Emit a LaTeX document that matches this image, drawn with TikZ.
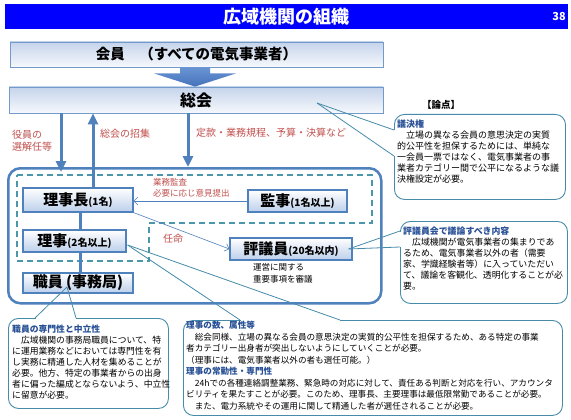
\documentclass[tikz,border=0pt]{standalone}
\usepackage{fontspec}
\setmainfont{Noto Sans CJK JP}
\usetikzlibrary{arrows.meta,calc}
\definecolor{titleblue}{RGB}{0,0,255}
\definecolor{steel}{RGB}{79,129,189}
\definecolor{dashteal}{RGB}{75,150,170}
\definecolor{calloutc}{RGB}{70,140,170}
\definecolor{labred}{RGB}{192,80,77}
\definecolor{headblue}{RGB}{40,80,150}
\definecolor{topbox}{RGB}{197,212,235}
\definecolor{botbox}{RGB}{246,248,252}
\definecolor{orgbot}{RGB}{188,207,235}
\definecolor{arrtop}{RGB}{105,148,212}
\definecolor{arrbot}{RGB}{70,114,186}
\newcommand{\fsz}[2]{\fontsize{#1}{#2}\selectfont}
\begin{document}
\begin{tikzpicture}[x=1pt,y=-1pt,
  widebox/.style={draw=steel!80, line width=0.8pt, top color=topbox, bottom color=botbox, minimum width=#1, inner sep=0pt},
  orgbox/.style={draw=steel, line width=1.2pt, top color=white, bottom color=orgbot, inner sep=0pt},
  thkline/.style={draw=steel, line width=3pt},
  thkarrow/.style={thkline, -{Triangle[width=10pt,length=11pt]}},
  thnarrow/.style={draw=steel, line width=0.6pt, -{Straight Barb[length=4pt,width=8pt]}},
  redlab/.style={text=labred, inner sep=0pt, align=left},
  callout/.style={draw=calloutc, line width=0.9pt, fill=white, rounded corners=10pt, inner sep=0pt, anchor=north west},
  tail/.style={draw=calloutc, line width=0.8pt},
  gap/.style={draw=white, line width=1.8pt},
  body/.style={inner sep=0pt, align=left, anchor=north west},
]
\useasboundingbox (0,0) rectangle (571,420);
\fill[white] (0,0) rectangle (571,420);

% title bar
\node[fill=titleblue, minimum width=563pt, minimum height=25pt, inner sep=0pt, anchor=north west,
      text=white, font=\fsz{18}{18}\bfseries] (title) at (5,4) {広域機関の組織};
\node[text=white, font=\fsz{11}{11}\bfseries, anchor=east, inner sep=0pt] (pnum) at (566,16.5) {38};

% members and general assembly
\node[widebox=373pt, minimum height=25pt] (kaiin) at (196.5,54.5) {\fsz{14.5}{15}\bfseries 会員　（すべての電気事業者）};
\node[widebox=374pt, minimum height=26pt] (soukai) at (196,100) {\fsz{16}{16}\bfseries 総会};

% big block arrow
\coordinate (ab) at ($(kaiin.south)+(-1.5,0)$);
\shade[top color=arrtop, bottom color=arrbot]
  ($(ab)+(-15,0)$) -- ($(ab)+(15,0)$) -- ($(ab)+(15,6)$) -- ($(ab)+(41,6)$)
  -- (soukai.north -| ab) -- ($(ab)+(-41,6)$) -- ($(ab)+(-15,6)$) -- cycle;

% outer organisation frame
\node[draw=steel, line width=2.5pt, rounded corners=12pt, minimum width=373pt, minimum height=135pt,
      inner sep=0pt, anchor=north west] (outer) at (7,167) {};
\draw[dashteal, line width=1.2pt, dash pattern=on 6pt off 4pt]
  (17,175) -- (372,175) -- (372,223) -- (149,223) -- (149,261) -- (17,261) -- cycle;

% organisation boxes
\node[orgbox, minimum width=110pt, minimum height=24pt] (rijicho) at (78,200)
  {{\fsz{15}{15}\bfseries 理事長}{\fsz{10}{10}\bfseries (1名)}};
\node[orgbox, minimum width=99pt, minimum height=22pt] (kanji) at (297.5,201)
  {{\fsz{15}{15}\bfseries 監事}{\fsz{10}{10}\bfseries (1名以上)}};
\node[orgbox, minimum width=103pt, minimum height=22pt] (riji) at (74.5,241)
  {{\fsz{15}{15}\bfseries 理事}{\fsz{10}{10}\bfseries (2名以上)}};
\node[orgbox, minimum width=110pt, minimum height=20pt] (shokuin) at (78,283)
  {\fsz{15}{15}\bfseries 職員 (事務局)};
\node[orgbox, minimum width=122pt, minimum height=22pt] (hyogiin) at (291,249)
  {{\fsz{15}{15}\bfseries 評議員}{\fsz{10}{10}\bfseries (20名以内)}};

% thick connectors
\coordinate (x61) at (61,0);
\coordinate (x93) at (93,0);
\coordinate (x188) at (188,0);
\coordinate (x80) at (80,0);
\draw[thkarrow] (soukai.south -| x61) -- ($(outer.north -| x61)+(0,5)$);
\draw[thkarrow] (rijicho.north -| x93) -- (soukai.south -| x93);
\draw[thkarrow] (soukai.south -| x188) -- (outer.north -| x188);
\draw[thkline] (rijicho.south -| x80) -- (riji.north -| x80);
\draw[thkline] (riji.south -| x80) -- (shokuin.north -| x80);

% thin connectors
\draw[thnarrow] (kanji.west) -- (kanji.west -| rijicho.east);
\draw[thnarrow] (rijicho.south east) -- (hyogiin.west);

% labels
\node[redlab, anchor=north west, font=\fsz{10}{12}] (l1) at (12,130) {役員の\\選解任等};
\node[redlab, anchor=west, font=\fsz{10}{12}] (l2) at (100,134) {総会の招集};
\node[redlab, anchor=west, font=\fsz{10}{12}] (l3) at (196,133) {定款・業務規程、予算・決算など};
\node[redlab, anchor=north west, font=\fsz{8.5}{11}] (l4) at (153,178) {業務監査\\必要に応じ意見提出};
\node[redlab, anchor=west, font=\fsz{10}{12}] (l5) at (163,239) {任命};
\node[body, font=\fsz{8.5}{11.5}] (l6) at (253,263.5) {運営に関する\\重要事項を審議};

% callouts
\node[font=\fsz{9.5}{10}\bfseries, inner sep=0pt] (ronten) at (441,105) {【論点】};

\node[callout, minimum width=171pt, minimum height=85pt] (c1) at (394,114) {};
\draw[gap] ($(c1.north west)+(0,16.5)$) -- ($(c1.north west)+(0,41.5)$);
\draw[tail] ($(soukai.center)+(121,3)$) -- ($(c1.north west)+(0,16)$);
\draw[tail] ($(soukai.center)+(121,3)$) -- ($(c1.north west)+(0,42)$);
\node[body, font=\fsz{9}{11}] (c1t) at ($(c1.north west)+(3,6)$) {%
{\color{headblue}\bfseries 議決権}\\
　立場の異なる会員の意思決定の実質\\
的公平性を担保するためには、単純な\\
一会員一票ではなく、電気事業者の事\\
業者カテゴリー間で公平になるような議\\
決権設定が必要。};

\node[callout, minimum width=167pt, minimum height=82pt] (c2) at (400,221) {};
\draw[gap] ($(c2.north west)+(0,10.5)$) -- ($(c2.north west)+(0,25.5)$);
\draw[tail] ($(hyogiin.east)+(-4,0)$) -- ($(c2.north west)+(0,10)$);
\draw[tail] ($(hyogiin.east)+(-4,0)$) -- ($(c2.north west)+(0,26)$);
\node[body, font=\fsz{8.9}{11}] (c2t) at ($(c2.north west)+(3,6)$) {%
{\color{headblue}\bfseries 評議員会で議論すべき内容}\\
　広域機関が電気事業者の集まりであ\\
るため、電気事業者以外の者（需要\\
家、学識経験者等）に入っていただい\\
て、議論を客観化、透明化することが必\\
要。};

\node[callout, minimum width=160pt, minimum height=90pt] (c3) at (8,318) {};
\draw[gap] ($(c3.north west)+(27.5,0)$) -- ($(c3.north west)+(67.5,0)$);
\draw[tail] ($(shokuin.center)+(-11,4)$) -- ($(c3.north west)+(27,0)$);
\draw[tail] ($(shokuin.center)+(-11,4)$) -- ($(c3.north west)+(68,0)$);
\node[body, font=\fsz{8.8}{11}] (c3t) at ($(c3.north west)+(4,7)$) {%
{\color{headblue}\bfseries 職員の専門性と中立性}\\
　広域機関の事務局職員について、特\\
に運用業務などにおいては専門性を有\\
し実務に精通した人材を集めることが\\
必要。他方、特定の事業者からの出身\\
者に偏った編成とならないよう、中立性\\
に留意が必要。};

\node[callout, minimum width=379pt, minimum height=95pt] (c4) at (183,320) {};
\draw[gap] ($(c4.north west)+(57.5,0)$) -- ($(c4.north west)+(156.5,0)$);
\draw[tail] ($(riji.east)+(1,4)$) -- ($(c4.north west)+(57,0)$);
\draw[tail] ($(riji.east)+(1,4)$) -- ($(c4.north west)+(157,0)$);
\node[body, font=\fsz{8.6}{11.5}] (c4t) at ($(c4.north west)+(3,1)$) {%
{\color{headblue}\bfseries 理事の数、属性等}\\
　総会同様、立場の異なる会員の意思決定の実質的公平性を担保するため、ある特定の事業\\
者カテゴリー出身者が突出しないようにしていくことが必要。\\
（理事には、電気事業者以外の者も選任可能。）\\
{\color{headblue}\bfseries 理事の常勤性・専門性}\\
　24hでの各種連絡調整業務、緊急時の対応に対して、責任ある判断と対応を行い、アカウンタ\\
ビリティを果たすことが必要。このため、理事長、主要理事は最低限常勤であることが必要。\\
　また、電力系統やその運用に関して精通した者が選任されることが必要。};
\end{tikzpicture}
\end{document}
